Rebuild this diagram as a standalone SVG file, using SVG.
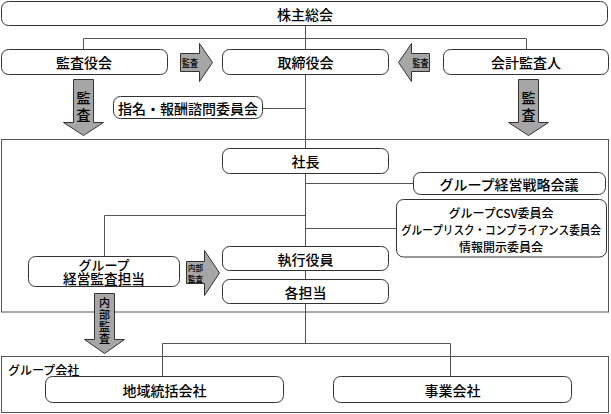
<svg xmlns="http://www.w3.org/2000/svg" width="611" height="414" viewBox="0 0 611 414">
<style>
.node rect{fill:#fff;stroke:#333;stroke-width:1}
.frame{fill:none;stroke:#555;stroke-width:1}
text{font-family:"Noto Sans CJK JP","Noto Sans CJK SC",sans-serif;font-weight:500;fill:#000;text-anchor:middle;dominant-baseline:central}
.t14{font-size:14px}
.t13{font-size:13px}
.t12{font-size:12px}
.t11{font-size:11px}
.t10{font-size:10px}
.t9{font-size:8.5px}
#connectors line,#connectors polyline{stroke:#555;fill:none;stroke-width:1}
.arrow polygon{fill:#a6a6a6;stroke:#333;stroke-width:1}
</style>
<rect id="frame-internal" class="frame" x="1.5" y="139.5" width="607" height="172.5"/>
<g id="frame-group">
<rect class="frame" x="1.5" y="356.5" width="607" height="56"/>
<text class="t12" x="8" y="369.5" style="text-anchor:start">グループ会社</text>
</g>
<g id="connectors">
<line x1="305.5" y1="25.5" x2="305.5" y2="343.5"/>
<polyline points="83.5,49.5 83.5,38.5 526.5,38.5 526.5,49.5"/>
<line x1="262.5" y1="108.5" x2="305.5" y2="108.5"/>
<line x1="305.5" y1="183.5" x2="413.5" y2="183.5"/>
<line x1="305.5" y1="228.5" x2="396.5" y2="228.5"/>
<polyline points="305.5,215.5 104.5,215.5 104.5,256.5"/>
<polyline points="162.5,377 162.5,343.5 450.5,343.5 450.5,377"/>
</g>
<g id="kabunushi" class="node"><rect x="1.5" y="1.5" width="606" height="24" rx="7"/><text class="t14" x="305" y="13.5">株主総会</text></g>
<g id="kansayakukai" class="node"><rect x="1.5" y="49.5" width="166" height="25" rx="7"/><text class="t14" x="84" y="62">監査役会</text></g>
<g id="torishimariyakukai" class="node"><rect x="222.5" y="49.5" width="166" height="25" rx="7"/><text class="t14" x="305.5" y="62">取締役会</text></g>
<g id="kaikeikansanin" class="node"><rect x="443.5" y="49.5" width="165" height="25" rx="7"/><text class="t14" x="526" y="62">会計監査人</text></g>
<g id="shimei" class="node"><rect x="113.5" y="96.5" width="149" height="22" rx="7"/><text class="t14" x="188" y="108">指名・報酬諮問委員会</text></g>
<g id="shacho" class="node"><rect x="222.5" y="148.5" width="166" height="25" rx="7"/><text class="t14" x="305.5" y="161">社長</text></g>
<g id="senryaku" class="node"><rect x="413.5" y="172.5" width="192" height="22" rx="7"/><text class="t14" x="509" y="184">グループ経営戦略会議</text></g>
<g id="committees" class="node"><rect x="396.5" y="199.5" width="210" height="57.5" rx="7"/>
<text class="t12" x="501" y="212">グループCSV委員会</text>
<text class="t12" x="501" y="229" textLength="200" lengthAdjust="spacingAndGlyphs">グループリスク・コンプライアンス委員会</text>
<text class="t12" x="501" y="246">情報開示委員会</text></g>
<g id="gkansa" class="node"><rect x="28.5" y="256.5" width="151" height="30" rx="7"/><text class="t13" x="104" y="264">グループ</text><text class="t14" x="104" y="278" textLength="82" lengthAdjust="spacingAndGlyphs">経営監査担当</text></g>
<g id="shikko" class="node"><rect x="222.5" y="246.5" width="166" height="24" rx="7"/><text class="t14" x="305.5" y="258.5">執行役員</text></g>
<g id="kakutanto" class="node"><rect x="222.5" y="279.5" width="166" height="24" rx="7"/><text class="t14" x="305.5" y="291.5">各担当</text></g>
<g id="chiiki" class="node"><rect x="45.5" y="376.5" width="238" height="26" rx="7"/><text class="t14" x="164.5" y="389.5">地域統括会社</text></g>
<g id="jigyo" class="node"><rect x="333.5" y="376.5" width="238" height="26" rx="7"/><text class="t14" x="452.5" y="389.5">事業会社</text></g>
<g id="arrow-kansa-right" class="arrow"><polygon points="180.5,53.5 199.5,53.5 199.5,43.5 212.5,62.5 199.5,81.5 199.5,71.5 180.5,71.5"/><text class="t10" x="190" y="62.5" textLength="16" lengthAdjust="spacingAndGlyphs">監査</text></g>
<g id="arrow-kansa-left" class="arrow"><polygon points="429.5,53.5 411.5,53.5 411.5,43.5 398.5,62.5 411.5,81.5 411.5,71.5 429.5,71.5"/><text class="t10" x="420.5" y="62.5" textLength="16" lengthAdjust="spacingAndGlyphs">監査</text></g>
<g id="arrow-kansa-down-left" class="arrow"><polygon points="73.5,79.5 93.5,79.5 93.5,122.5 103.5,122.5 83.5,135.5 63.5,122.5 73.5,122.5"/><text class="t14" x="83.5" y="97">監</text><text class="t14" x="83.5" y="114">査</text></g>
<g id="arrow-kansa-down-right" class="arrow"><polygon points="518.5,79.5 538.5,79.5 538.5,122.5 548.5,122.5 528.5,135.5 508.5,122.5 518.5,122.5"/><text class="t14" x="528.5" y="97">監</text><text class="t14" x="528.5" y="114">査</text></g>
<g id="arrow-naibu-right" class="arrow"><polygon points="186.5,261.5 204.5,261.5 204.5,250.5 219.5,273 204.5,295.5 204.5,283.5 186.5,283.5"/><text class="t9" x="195.5" y="267" textLength="15" lengthAdjust="spacingAndGlyphs">内部</text><text class="t9" x="195.5" y="277.5" textLength="15" lengthAdjust="spacingAndGlyphs">監査</text></g>
<g id="arrow-naibu-down" class="arrow"><polygon points="94.5,293.5 114.5,293.5 114.5,339.5 124.5,339.5 104.5,353.5 84.5,339.5 94.5,339.5"/><text class="t11" x="104.5" y="302">内</text><text class="t11" x="104.5" y="314">部</text><text class="t11" x="104.5" y="326">監</text><text class="t11" x="104.5" y="338">査</text></g>
</svg>
